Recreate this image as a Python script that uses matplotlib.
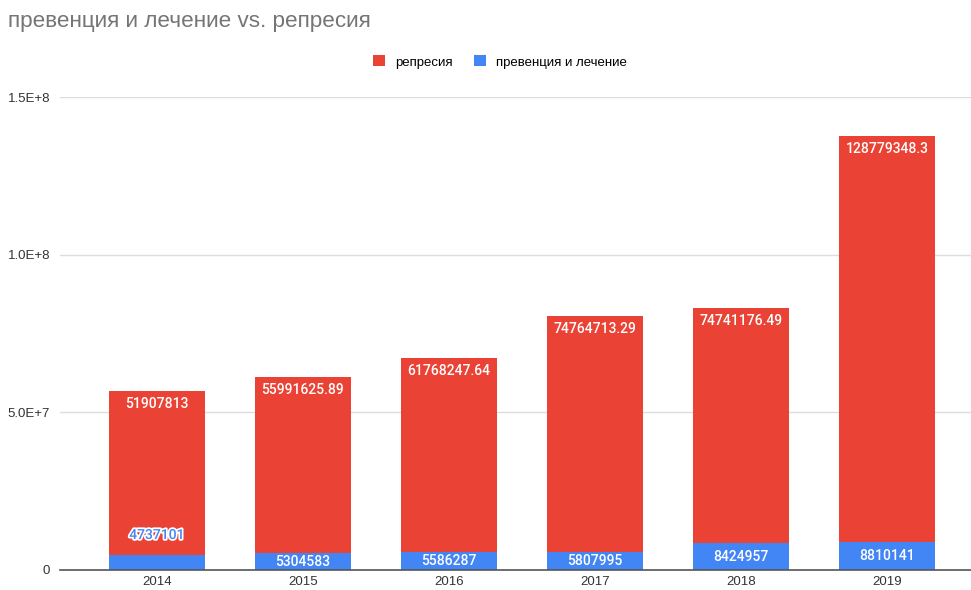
import numpy as np
import matplotlib.pyplot as plt
from matplotlib import patheffects as pe

years = ['2014', '2015', '2016', '2017', '2018', '2019']
prevention = [4737101, 5304583, 5586287, 5807995, 8424957, 8810141]
repression = [51907813, 55991625.89, 61768247.64, 74764713.29, 74741176.49, 128779348.3]
prev_labels = ['4737101', '5304583', '5586287', '5807995', '8424957', '8810141']
rep_labels = ['51907813', '55991625.89', '61768247.64', '74764713.29', '74741176.49', '128779348.3']

RED = '#ea4335'
BLUE = '#4285f4'

fig = plt.figure(figsize=(9.71, 5.9), dpi=100)
ax = fig.add_axes([60 / 971, 1 - 570 / 590, 1 - 60 / 971, (570 - 97) / 590])

x = np.arange(len(years))
ax.bar(x, prevention, width=0.66, color=BLUE, label='превенция и лечение', zorder=3)
ax.bar(x, repression, width=0.66, bottom=prevention, color=RED, label='репресия', zorder=3)

ax.set_xlim(-0.664, 5.575)
ax.set_ylim(0, 1.5e8)
ax.set_yticks([0, 5e7, 1e8, 1.5e8])
ax.set_yticklabels(['0', '5.0E+7', '1.0E+8', '1.5E+8'])
ax.set_xticks(x)
ax.set_xticklabels(years)
ax.tick_params(length=0, labelsize=9.5, colors='#333333')
ax.tick_params(axis='x', pad=4)
ax.tick_params(axis='y', pad=7)
for lbl in ax.get_xticklabels() + ax.get_yticklabels():
    lbl.set_family('Liberation Sans')
ax.grid(axis='y', color='#dddddd', linewidth=1, zorder=0)
for s in ['top', 'right', 'left']:
    ax.spines[s].set_visible(False)
ax.spines['bottom'].set_color('#555555')
ax.spines['bottom'].set_linewidth(1.2)
ax.spines['bottom'].set_zorder(4)

# value labels
px = 1.5e8 / 473  # data units per pixel
for i in range(len(years)):
    top = prevention[i] + repression[i]
    ax.text(x[i], top - 13 * px, rep_labels[i], ha='center', va='center',
            color='white', fontsize=10, family='Roboto', weight='medium', zorder=5)
    if prevention[i] / px < 16:
        ax.text(x[i], 35 * px, prev_labels[i], ha='center', va='center',
                color=BLUE, fontsize=10, family='Roboto', weight='medium', zorder=5,
                path_effects=[pe.withStroke(linewidth=2.5, foreground='white')])
    else:
        ax.text(x[i], prevention[i] / 2, prev_labels[i], ha='center', va='center',
                color='white', fontsize=10, family='Roboto', weight='medium', zorder=5)

fig.text(8 / 971, 1 - 22 / 590, 'превенция и лечение vs. репресия', ha='left', va='center',
         fontsize=16.2, color='#757575', family='Liberation Sans')

handles, labels = ax.get_legend_handles_labels()
fig.legend(handles[::-1], labels[::-1], loc='center', bbox_to_anchor=(500 / 971, 1 - 62 / 590),
           ncol=2, frameon=False, handlelength=0.9, handleheight=0.9,
           columnspacing=1.6, handletextpad=0.8, prop={'family': 'Liberation Sans', 'size': 9.5})

fig.savefig('out.png', dpi=100)
